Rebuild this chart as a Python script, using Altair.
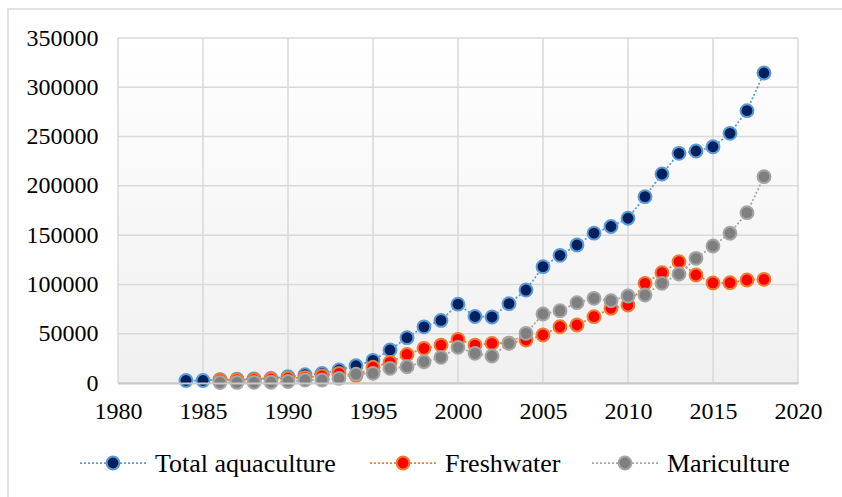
import altair as alt
import pandas as pd

# ---- data -------------------------------------------------------------
total_years = list(range(1984, 2019))
total = [2500, 2500, 3500, 3800, 4200, 4600, 6400, 8400, 9600, 13200,
         17500, 23000, 33500, 46000, 57000, 63500, 80000, 67500, 67000, 80500,
         94300, 118000, 129500, 140000, 152000, 158800, 167100, 189000, 212000,
         233000, 235400, 239700, 253300, 276300, 314500]

sub_years = list(range(1986, 2019))
freshwater = [3000, 3200, 3500, 3800, 4800, 5500, 7100, 9800, 7500, 16000,
              21000, 29000, 35200, 38500, 44300, 38500, 40200, 40500, 43600,
              48700, 57100, 58800, 67300, 75800, 79100, 101100, 111900, 123100,
              109600, 101500, 101800, 104500, 105200]
mariculture = [500, 600, 700, 800, 1500, 3000, 3000, 4700, 9000, 9800,
               14900, 16500, 21600, 26000, 36200, 30100, 27400, 40200, 50400,
               70000, 73400, 81500, 85900, 83500, 88300, 89300, 101100, 110600,
               126500, 139000, 151900, 172800, 209300]

series_names = ["Total aquaculture", "Freshwater", "Mariculture"]
fill_colors = ["#002060", "#FF0000", "#7F7F7F"]
ring_colors = ["#5B9BD5", "#ED7D31", "#A5A5A5"]

x_ticks = [1980, 1985, 1990, 1995, 2000, 2005, 2010, 2015, 2020]
y_ticks = [0, 50000, 100000, 150000, 200000, 250000, 300000, 350000]

rows = []
for name, yrs, vals in [(series_names[0], total_years, total),
                        (series_names[1], sub_years, freshwater),
                        (series_names[2], sub_years, mariculture)]:
    for yr, v in zip(yrs, vals):
        rows.append({"year": yr, "value": v, "series": name})
df = pd.DataFrame(rows)

# ---- layout -----------------------------------------------------------
W, H = 680, 345
FONT = "'Liberation Serif', 'Times New Roman', Times, serif"
GRID = "#D9D9D9"
MARK_SIZE = 165

x_enc = alt.X("year:Q", title=None,
              scale=alt.Scale(domain=[1980, 2020], nice=False, zero=False),
              axis=alt.Axis(values=x_ticks, format="d", grid=False, ticks=False,
                            tickSize=0, labelPadding=16, labelFlush=False,
                            labelOverlap=False, domain=True,
                            domainColor="#C8C8C8", domainWidth=2, zindex=1))
y_enc = alt.Y("value:Q", title=None,
              scale=alt.Scale(domain=[0, 350000], nice=False),
              axis=alt.Axis(values=y_ticks, format="d", grid=False, ticks=False,
                            tickSize=0, labelPadding=20, labelFlush=False,
                            labelOverlap=False, domain=False, zindex=1))

fill_scale = alt.Scale(domain=series_names, range=fill_colors)
ring_scale = alt.Scale(domain=series_names, range=ring_colors)

one_row = alt.Data(values=[{"k": 0}])

# plot area background: soft vertical gradient
background = alt.Chart(one_row).mark_rect(
    fill=alt.LinearGradient(
        gradient="linear", x1=0, x2=0, y1=0, y2=1,
        stops=[alt.GradientStop(color="#FFFFFF", offset=0),
               alt.GradientStop(color="#F0F0F0", offset=1)]),
    strokeWidth=0,
).encode(x=alt.value(0), x2=alt.value(W), y=alt.value(0), y2=alt.value(H))

# outer frame around the whole figure
frame = alt.Chart(one_row).mark_rect(
    fill="transparent", stroke=GRID, strokeWidth=1.5
).encode(x=alt.value(-110), x2=alt.value(W + 60),
         y=alt.value(-29), y2=alt.value(H + 130))

vgrid = alt.Chart(pd.DataFrame({"year": x_ticks})).mark_rule(
    color=GRID, strokeWidth=1.5).encode(x=x_enc)
hgrid = alt.Chart(pd.DataFrame({"value": y_ticks})).mark_rule(
    color=GRID, strokeWidth=1.5).encode(y=y_enc)

lines = alt.Chart(df).mark_line(strokeDash=[2, 2], strokeWidth=1.75).encode(
    x=x_enc, y=y_enc,
    stroke=alt.Stroke("series:N", scale=ring_scale, legend=None),
    detail="series:N",
)

points = alt.Chart(df).mark_point(
    filled=True, size=MARK_SIZE, strokeWidth=2, opacity=1
).encode(
    x=x_enc, y=y_enc,
    fill=alt.Fill("series:N", scale=fill_scale, legend=None),
    stroke=alt.Stroke("series:N", scale=ring_scale, legend=None),
)

# legend row under the plot
legend_y = 425
legend_marker_x = [-5, 285, 507]
legend_layers = []
for name, fc, rc, mx in zip(series_names, fill_colors, ring_colors, legend_marker_x):
    d = alt.Data(values=[{"name": name}])
    legend_layers.append(
        alt.Chart(d).mark_rule(color=rc, strokeWidth=1.75, strokeDash=[2, 2]).encode(
            x=alt.value(mx - 33), x2=alt.value(mx + 33), y=alt.value(legend_y)))
    legend_layers.append(
        alt.Chart(d).mark_point(filled=True, size=MARK_SIZE, strokeWidth=2, opacity=1,
                                fill=fc, stroke=rc).encode(
            x=alt.value(mx), y=alt.value(legend_y)))
    legend_layers.append(
        alt.Chart(d).mark_text(align="left", baseline="middle", font=FONT,
                               fontSize=26, color="#000000").encode(
            x=alt.value(mx + 42), y=alt.value(legend_y + 1), text="name:N"))

chart = alt.layer(
    background, frame, vgrid, hgrid, lines, points, *legend_layers
).resolve_scale(
    stroke="shared"
).properties(
    width=W, height=H,
    padding={"left": 118, "top": 38, "right": 44, "bottom": 114},
    autosize=alt.AutoSizeParams(type="none"),
    background="#FFFFFF",
).configure_view(
    stroke=None
).configure_axis(
    labelFont=FONT, labelFontSize=24, labelColor="#000000"
).configure_text(
    font=FONT
)

chart.save("out.html", embed_options={"renderer": "svg", "actions": False})
